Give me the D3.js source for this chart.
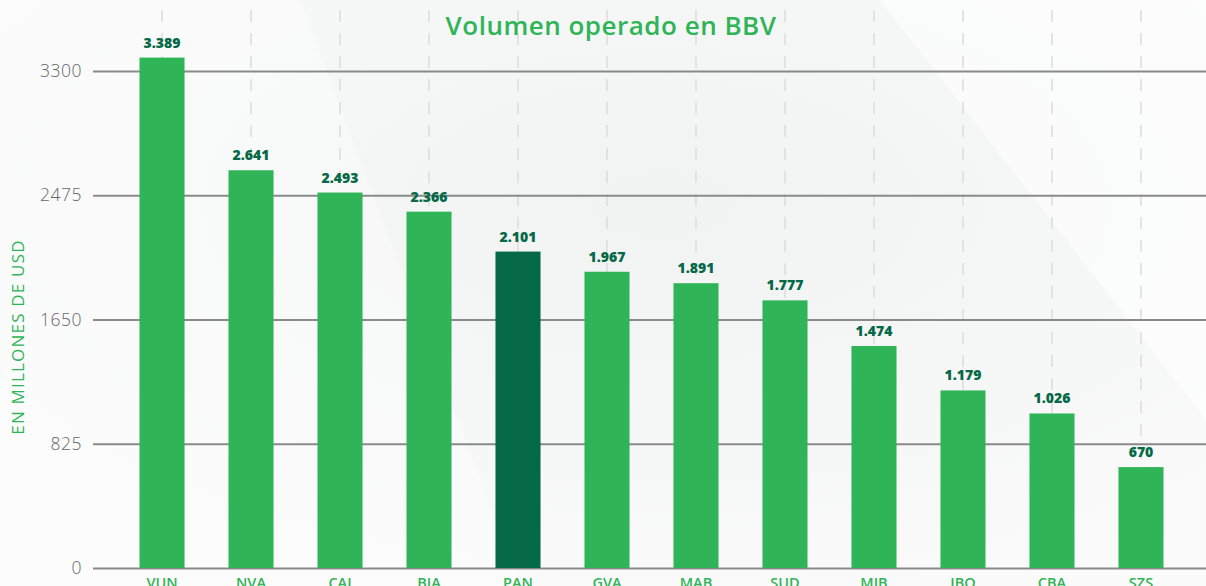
<!DOCTYPE html>
<html>
<head>
<meta charset="utf-8">
<script src="https://cdn.jsdelivr.net/npm/d3@7"></script>
<style>
  html, body { margin: 0; padding: 0; overflow: hidden; }
  body { width: 1206px; height: 586px; }
  text { font-family: "Open Sans", "Lato", sans-serif; }
</style>
</head>
<body>
<div id="chart"></div>
<script>
// data
const categories = ["VUN", "NVA", "CAI", "BIA", "PAN", "GVA", "MAB", "SUD", "MIB", "IBO", "CBA", "SZS"];
const volumes = [3389, 2641, 2493, 2366, 2101, 1967, 1891, 1777, 1474, 1179, 1026, 670];
const highlight = "PAN";
const yTicks = [0, 825, 1650, 2475, 3300];

const width = 1206, height = 586;
const green = "#2fb457", darkGreen = "#056846";

let svg = d3.select("#chart").append("svg")
    .attr("width", width)
    .attr("height", height);

// background
let defs = svg.append("defs");
let grad = defs.append("radialGradient").attr("id", "bg").attr("cx", "55%").attr("cy", "35%").attr("r", "75%");
grad.append("stop").attr("offset", "0%").attr("stop-color", "#f1f2f2");
grad.append("stop").attr("offset", "100%").attr("stop-color", "#fbfbfb");
svg.append("rect").attr("width", width).attr("height", height).attr("fill", "url(#bg)");
svg.append("polygon").attr("points", "880,0 1206,0 1206,420").attr("fill", "#ffffff").attr("opacity", 0.6);
svg.append("polygon").attr("points", "0,0 300,0 520,586 0,586").attr("fill", "#ffffff").attr("opacity", 0.35);

let xScale = d3.scaleBand()
    .domain(categories)
    .range([95, 1208])
    .paddingInner(0.494)
    .paddingOuter(0.5);

let yScale = d3.scaleLinear()
    .domain([0, 3300])
    .range([568, 71]);

// dashed vertical guides at each category
svg.append("g").selectAll("line")
    .data(categories)
    .enter().append("line")
    .attr("x1", d => xScale(d) + xScale.bandwidth() / 2)
    .attr("x2", d => xScale(d) + xScale.bandwidth() / 2)
    .attr("y1", 10)
    .attr("y2", yScale(0))
    .attr("stroke", "#dcdcdc")
    .attr("stroke-width", 1.5)
    .attr("stroke-dasharray", "12,11");

// y axis with gridlines
let yAxis = d3.axisLeft(yScale)
    .tickValues(yTicks)
    .tickSize(-(width - 93))
    .tickPadding(11)
    .tickFormat(d3.format("d"));

let yAx = svg.append("g")
    .attr("transform", "translate(93,0)")
    .call(yAxis);
yAx.select(".domain").remove();
yAx.selectAll(".tick line").attr("stroke", "#8a8a8a").attr("stroke-width", 2);
yAx.selectAll(".tick text")
    .attr("fill", "#666")
    .style("font-size", "17.5px")
    .style("font-weight", "300")
    .style("letter-spacing", "0.5px")
    .style("font-family", "'Open Sans', sans-serif");

// bars
svg.append("g").selectAll("rect")
    .data(categories)
    .enter().append("rect")
    .attr("x", d => xScale(d))
    .attr("y", (d, i) => yScale(volumes[i]))
    .attr("width", xScale.bandwidth())
    .attr("height", (d, i) => yScale(0) - yScale(volumes[i]))
    .attr("fill", d => d === highlight ? darkGreen : green);

// value labels
let fmt = d3.formatLocale({decimal: ",", thousands: ".", grouping: [3], currency: ["", ""]}).format(",d");
svg.append("g").selectAll("text")
    .data(categories)
    .enter().append("text")
    .attr("x", d => xScale(d) + xScale.bandwidth() / 2)
    .attr("y", (d, i) => yScale(volumes[i]) - 10)
    .attr("text-anchor", "middle")
    .attr("fill", darkGreen)
    .style("font-size", "14px")
    .style("font-weight", "800")
    .text((d, i) => fmt(volumes[i]));

// category labels
svg.append("g").selectAll("text")
    .data(categories)
    .enter().append("text")
    .attr("x", d => xScale(d) + xScale.bandwidth() / 2)
    .attr("y", 588)
    .attr("text-anchor", "middle")
    .attr("fill", green)
    .style("font-size", "14.5px")
    .style("font-weight", "600")
    .text(d => d);

// title
svg.append("text")
    .attr("x", 611)
    .attr("y", 35)
    .attr("text-anchor", "middle")
    .attr("fill", green)
    .style("font-size", "26px")
    .style("font-weight", "600")
    .style("letter-spacing", "0.5px")
    .text("Volumen operado en BBV");

// y axis label
svg.append("text")
    .attr("transform", "translate(24,337) rotate(-90)")
    .attr("text-anchor", "middle")
    .attr("fill", green)
    .style("font-size", "17px")
    .style("letter-spacing", "1.2px")
    .text("EN MILLONES DE USD");
</script>
</body>
</html>
